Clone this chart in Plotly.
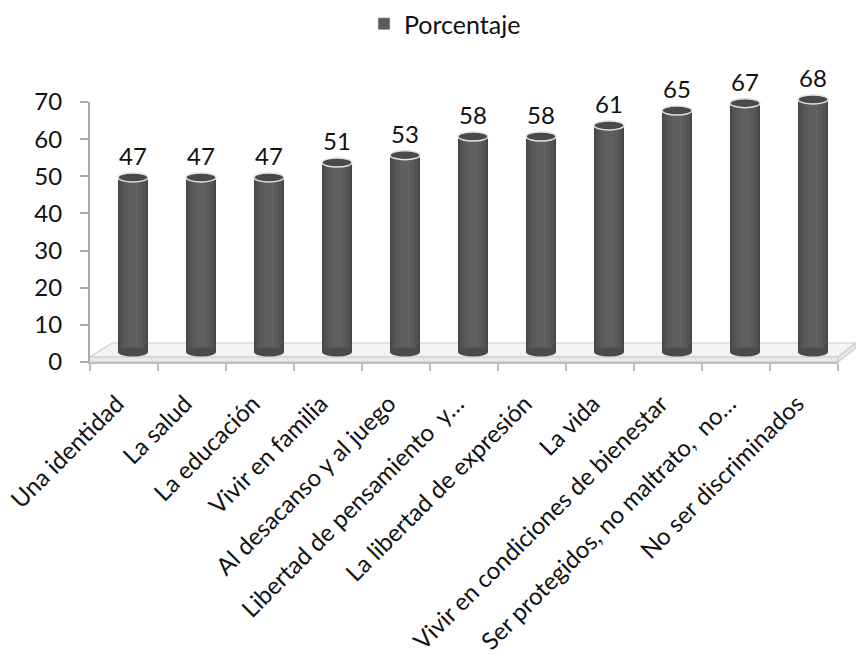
import plotly.graph_objects as go

categories = [
    "Una identidad",
    "La salud",
    "La educación",
    "Vivir en familia",
    "Al desacanso y al juego",
    "Libertad de pensamiento  y…",
    "La libertad de expresión",
    "La vida",
    "Vivir en condiciones de bienestar",
    "Ser protegidos, no maltrato,  no…",
    "No ser discriminados",
]
values = [47, 47, 47, 51, 53, 58, 58, 61, 65, 67, 68]
series_name = "Porcentaje"
y_ticks = [0, 10, 20, 30, 40, 50, 60, 70]

FONT = "Lato"
W, H = 856, 654
L, R, T, B = 90, 18, 50, 292
AX_TOP = 102                      # pixel row of y = 70
pw, ph = W - L - R, H - T - B     # full plot area
dom = (H - B - AX_TOP) / ph       # main y-axis domain top
n = len(categories)
dx_px, dy_px = 9, 10              # 3-D depth offset of the bars
lab_dx_px = 7                     # category labels sit slightly left
cat_px = pw / n
unit_px = (H - B - AX_TOP) / 70.0
dx = dx_px / cat_px
dy = dy_px / unit_px
ldx = lab_dx_px / cat_px

fig = go.Figure()

layers = [(0.44, "#444444"), (0.40, "#4c4c4c"), (0.34, "#535353"),
          (0.26, "#5a5a5a"), (0.16, "#606060")]
for k, (w, c) in enumerate(layers):
    fig.add_trace(go.Bar(
        x=categories, y=values, width=w, marker=dict(color=c, line=dict(width=0)),
        xaxis="x2", yaxis="y2", name=series_name, showlegend=False,
        cliponaxis=False, hoverinfo="skip" if k else None,
    ))

fig.add_trace(go.Bar(x=[None], y=[None], name=series_name,
                     marker=dict(color="#5a5a5a"), showlegend=True))
# invisible trace carrying the category labels axis
fig.add_trace(go.Scatter(x=categories, y=[0] * n, xaxis="x3", yaxis="y",
                         mode="markers", marker=dict(opacity=0), showlegend=False,
                         hoverinfo="skip"))

shapes = []
def px2paper(px, py):
    return (px - L) / pw, (H - B - py) / ph

def quad(pts, fill):
    p = [v for q in pts for v in px2paper(*q)]
    return dict(type="path", xref="paper", yref="paper",
                path="M {} {} L {} {} L {} {} L {} {} Z".format(*p),
                fillcolor=fill, line=dict(color="#cccccc", width=1.2), layer="below")

shapes.append(quad([(90, 357), (112, 343), (856, 343), (838, 357)], "#f4f4f4"))
shapes.append(quad([(90, 357), (838, 357), (838, 362), (90, 362)], "#e9e9e9"))
shapes.append(quad([(838, 357), (856, 343), (856, 348), (838, 362)], "#e9e9e9"))

eh = 4.5 / unit_px
ew = 0.22
for i, v in enumerate(values):
    shapes.append(dict(type="circle", xref="x2", yref="y2",
                       x0=i - ew, x1=i + ew, y0=-eh, y1=eh,
                       fillcolor="#4a4a4a", line=dict(width=0), layer="above"))
    shapes.append(dict(type="circle", xref="x2", yref="y2",
                       x0=i - ew, x1=i + ew, y0=v - eh, y1=v + eh,
                       fillcolor="#4a4a4a", line=dict(color="#e2e2e2", width=1.5), layer="above"))

annotations = []
for i, v in enumerate(values):
    annotations.append(dict(x=i, y=v, xref="x2", yref="y2", text=str(v),
                            showarrow=False, yanchor="middle", yshift=22,
                            font=dict(family=FONT, size=24, color="#111111")))

fig.update_layout(
    width=W, height=H,
    margin=dict(l=L, r=R, t=T, b=B, pad=0, autoexpand=False),
    paper_bgcolor="white", plot_bgcolor="rgba(0,0,0,0)",
    font=dict(family=FONT, size=24, color="#111111"),
    bargap=0, barmode="overlay",
    showlegend=True,
    legend=dict(orientation="h", x=(364 - L) / pw, xanchor="left",
                y=(H - B - 24) / ph, yanchor="middle",
                font=dict(family=FONT, size=25, color="#111111"),
                itemwidth=30, bgcolor="rgba(0,0,0,0)"),
    xaxis=dict(type="category", categoryorder="array", categoryarray=categories,
               range=[-0.5, n - 0.5], showline=True, linecolor="#bdbdbd", linewidth=1.5,
               ticks="outside", tickson="boundaries", ticklen=7, tickcolor="#bdbdbd",
               tickwidth=1.5, showticklabels=False, showgrid=False, zeroline=False,
               automargin=False, anchor="y"),
    xaxis3=dict(type="category", overlaying="x", anchor="y", side="bottom",
                categoryorder="array", categoryarray=categories,
                range=[-0.5 + ldx, n - 0.5 + ldx], showline=False, ticks="",
                tickangle=-45, showgrid=False, zeroline=False,
                ticklabelstandoff=22, automargin=False,
                tickfont=dict(family=FONT, size=24, color="#111111")),
    yaxis=dict(range=[0, 70], domain=[0, dom], tickvals=y_ticks, showline=True,
               linecolor="#aaaaaa", linewidth=2, ticks="outside", ticklen=8,
               tickcolor="#aaaaaa", tickwidth=1.5, automargin=False, anchor="x",
               showgrid=False, zeroline=False, ticklabelstandoff=13,
               tickfont=dict(family=FONT, size=24, color="#111111")),
    xaxis2=dict(type="category", visible=False, anchor="y2", domain=[0, 1],
                categoryorder="array", categoryarray=categories,
                range=[-0.5 - dx, n - 0.5 - dx]),
    yaxis2=dict(visible=False, anchor="x2", domain=[0, 1],
                range=[0 - dy, 70 / dom - dy]),
    shapes=shapes, annotations=annotations,
)

fig.write_html("out.html", config={"displayModeBar": False},
               post_script="document.body.style.margin='0px';"
                           "document.body.style.overflow='hidden';")
